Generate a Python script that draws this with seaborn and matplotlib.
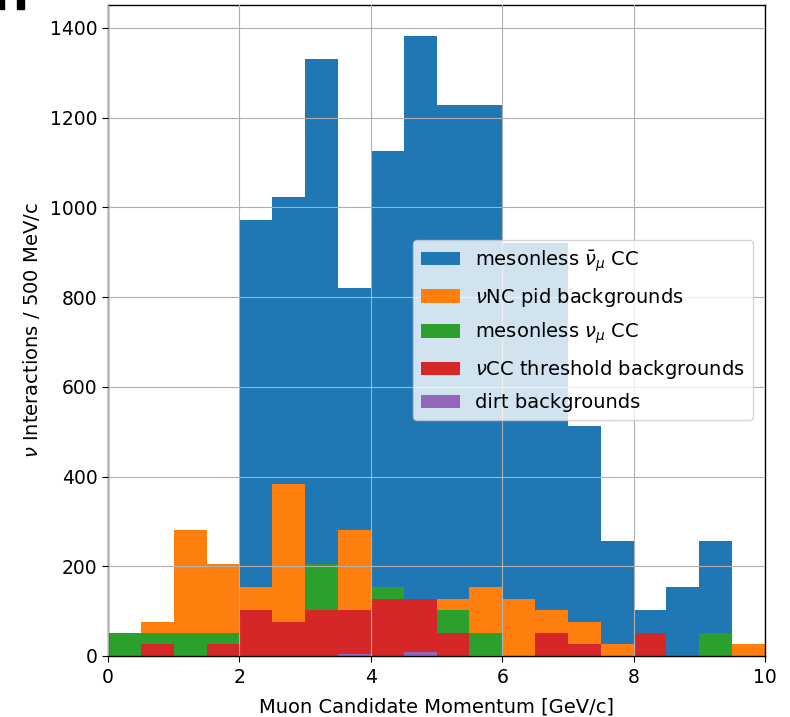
import numpy as np
import pandas as pd
import matplotlib
matplotlib.use("Agg")
import matplotlib.pyplot as plt
from matplotlib.patches import Rectangle
import seaborn as sns

# Momentum binning: 500 MeV/c bins from 0 to 10 GeV/c
bin_edges = np.arange(0.0, 10.01, 0.5)
bin_centers = 0.5 * (bin_edges[:-1] + bin_edges[1:])

# Weighted event counts per bin for each sample
mesonless_numubar_cc = [0, 0, 0, 0, 972.8, 1024, 1331.2, 819.2, 1126.4, 1382.4,
                        1228.8, 1228.8, 921.6, 921.6, 512, 256, 102.4, 153.6, 256, 0]
nc_pid_bkg = [0, 76.8, 281.6, 204.8, 153.6, 384, 0, 281.6, 0, 0,
              128, 153.6, 128, 102.4, 76.8, 25.6, 0, 0, 0, 25.6]
mesonless_numu_cc = [51.2, 51.2, 51.2, 51.2, 0, 0, 204.8, 0, 153.6, 0,
                     102.4, 51.2, 0, 0, 0, 0, 0, 0, 51.2, 0]
cc_threshold_bkg = [0, 25.6, 0, 25.6, 102.4, 76.8, 102.4, 102.4, 128, 128,
                    51.2, 0, 0, 51.2, 25.6, 0, 51.2, 0, 0, 0]
dirt_bkg = [0, 0, 0, 0, 0, 0, 0, 4, 0, 8,
            0, 3, 0, 0, 0, 0, 0, 0, 0, 0]

labels = [r"mesonless $\bar{\nu}_\mu$ CC",
          r"$\nu$NC pid backgrounds",
          r"mesonless $\nu_\mu$ CC",
          r"$\nu$CC threshold backgrounds",
          "dirt backgrounds"]
series = [mesonless_numubar_cc, nc_pid_bkg, mesonless_numu_cc,
          cc_threshold_bkg, dirt_bkg]
colors = ["#1f77b4", "#ff7f0e", "#2ca02c", "#d62728", "#9467bd"]

plt.rcParams["font.family"] = ["DejaVu Sans"]
plt.rcParams["font.size"] = 14

fig = plt.figure(figsize=(7.9, 7.17), dpi=100)
ax = fig.add_axes([0.1367, 0.0851, 0.8317, 0.9079])

# Overlaid (not stacked) weighted histograms, later samples drawn on top
for vals, lab, col in zip(series, labels, colors):
    df = pd.DataFrame({"p": bin_centers, "w": vals})
    sns.histplot(data=df, x="p", weights="w", binwidth=0.5, binrange=(0, 10),
                 ax=ax, color=col, alpha=1.0, linewidth=0, element="bars",
                 label=lab)

ax.set_xlim(0, 10)
ax.set_ylim(0, 1451)
ax.set_yticks(np.arange(0, 1401, 200))
ax.set_xticks(np.arange(0, 11, 2))
ax.grid(True, color="#b0b0b0", linewidth=0.8)
ax.set_axisbelow(False)
for s in ax.spines.values():
    s.set_linewidth(1.0)
    s.set_color("black")
ax.tick_params(axis="both", labelsize=13.5, length=4)
ax.tick_params(axis="x", pad=5)

ax.set_xlabel("Muon Candidate Momentum [GeV/c]", fontsize=14, labelpad=7)
ax.set_ylabel(r"$\nu$ Interactions / 500 MeV/c", fontsize=14, labelpad=6)

ax.legend(loc="upper left", bbox_to_anchor=(0.464, 0.6385), borderaxespad=0,
          fontsize=14, framealpha=0.8, labelspacing=0.62)

# small dark marks in the top-left corner of the canvas
for x0, w in [(0, 4), (17, 7)]:
    fig.patches.append(Rectangle((x0 / 790, 1 - 9 / 717), w / 790, 9 / 717,
                                 transform=fig.transFigure, color="black",
                                 zorder=10))

fig.savefig("out.png", dpi=100)
